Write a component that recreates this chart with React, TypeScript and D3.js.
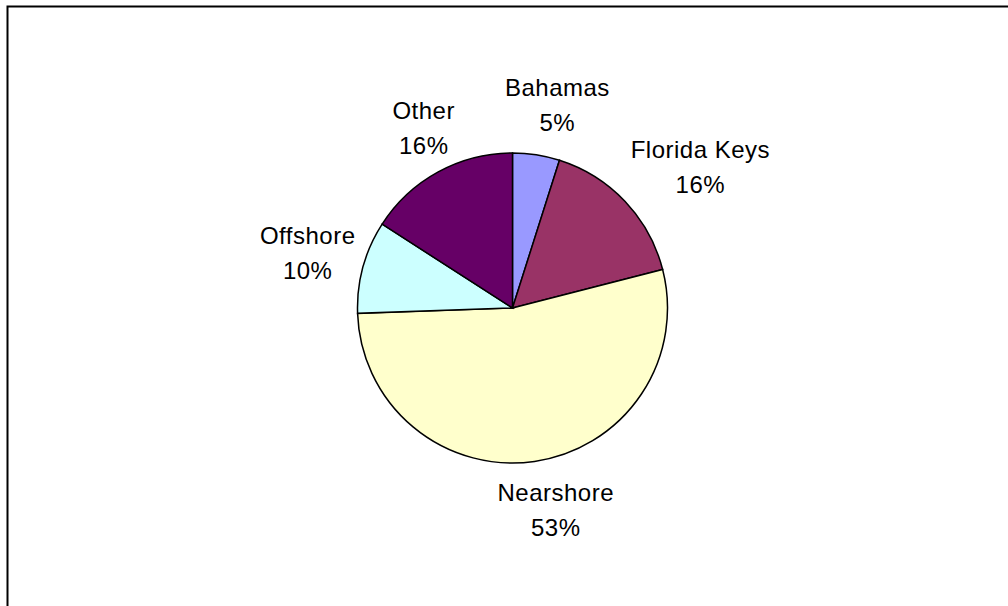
import React from "react";
import * as d3 from "d3";

const categories = ["Bahamas", "Florida Keys", "Nearshore", "Offshore", "Other"];
const values = [4.9, 16.1, 53.45, 9.65, 15.9];
const colors = ["#9999FF", "#993366", "#FFFFCC", "#CCFFFF", "#660066"];

const W = 1008;
const H = 606;
const cx = 512.5;
const cy = 308;
const radius = 155;
const FONT = "24px 'Liberation Sans', Arial, sans-serif";
const LINE = 35;
const LABEL_NUDGE_X = 10;

function measure(text: string): number {
  if (typeof document === "undefined") return text.length * 12;
  const c = document.createElement("canvas");
  const ctx = c.getContext("2d");
  if (!ctx) return text.length * 12;
  ctx.font = FONT;
  return ctx.measureText(text).width + text.length * 0.5;
}

export default function App() {
  const total = d3.sum(values);
  const pie = d3.pie<number>().sort(null).value((d) => d);
  const arcs = pie(values);
  const arc = d3.arc<d3.PieArcDatum<number>>().innerRadius(0).outerRadius(radius);
  const labelR = 175;

  return (
    <svg
      width={W}
      height={H}
      style={{ position: "absolute", left: 0, top: 0, background: "#fff" }}
    >
      <rect x={7.5} y={6.5} width={1100} height={700} fill="#fff" stroke="#000" strokeWidth={2} />
      <g transform={`translate(${cx},${cy})`}>
        {arcs.map((a, i) => (
          <path key={i} d={arc(a) || ""} fill={colors[i]} stroke="#000" strokeWidth={1.5} />
        ))}
        {arcs.map((a, i) => {
          const mid = (a.startAngle + a.endAngle) / 2;
          const line1 = categories[i];
          const line2 = `${Math.round((values[i] / total) * 100)}%`;
          const w = Math.max(measure(line1), measure(line2));
          const h = LINE * 2 - 10;
          const x = labelR * Math.sin(mid) + (w / 2) * Math.sin(mid) + LABEL_NUDGE_X;
          const y = -labelR * Math.cos(mid) - (h / 2) * Math.cos(mid);
          return (
            <text
              key={"l" + i}
              x={x}
              y={y}
              textAnchor="middle"
              style={{ font: FONT, letterSpacing: "0.5px" }}
              fill="#000"
            >
              <tspan x={x} dy={-LINE / 2 + 8}>{line1}</tspan>
              <tspan x={x} dy={LINE}>{line2}</tspan>
            </text>
          );
        })}
      </g>
    </svg>
  );
}
